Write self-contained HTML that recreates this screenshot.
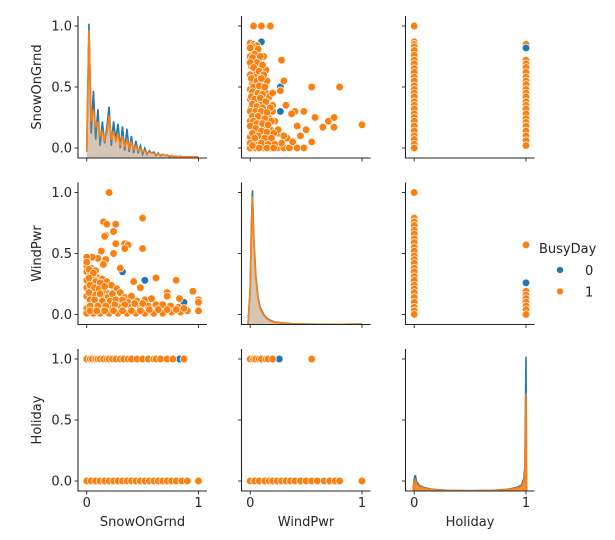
<!DOCTYPE html>
<html><head><meta charset="utf-8"><style>
html,body{margin:0;padding:0;background:#fff;}
svg{display:block;font-family:"DejaVu Sans","Liberation Sans",sans-serif;}
</style></head><body>
<svg id="chart" width="615" height="540" viewBox="0 0 615 540" xmlns="http://www.w3.org/2000/svg"></svg>
<script>
const varNames = ["SnowOnGrnd","WindPwr","Holiday"];
const tickVals = [0, 0.5, 1.0];
const yTickLabels = ["0.0","0.5","1.0"];
const xTickVals = [0, 1];
const xTickLabels = ["0","1"];
const legendTitle = "BusyDay";
const legendLabels = ["0","1"];

const p01Orange = [0,0.86,0.03,0.85,0.06,0.84,0.02,0.8,0.05,0.78,0,0.75,0.04,0.72,0.08,0.7,0.01,0.67,0.06,0.65,0.03,0.62,0.1,0.64,0.14,0.64,0,0.6,0.05,0.58,0.08,0.56,0.02,0.53,0.11,0.52,0.05,0.5,0,0.48,0.09,0.47,0.14,0.45,0.03,0.44,0.06,0.42,0,0.4,0.12,0.4,0.17,0.42,0.04,0.37,0.09,0.36,0.15,0.35,0.01,0.33,0.07,0.31,0.2,0.3,0.03,0.28,0.12,0.28,0.05,0.25,0.16,0.25,0,0.22,0.09,0.22,0.22,0.22,0.04,0.19,0.13,0.19,0.02,0.16,0.08,0.15,0.18,0.15,0.05,0.12,0.12,0.11,0.25,0.12,0,0.09,0.09,0.08,0.16,0.07,0.03,0.05,0.2,0.05,0.07,0.03,0.13,0.02,0,0,0.05,0,0.12,0,0.18,0,0.24,0,0.3,0,0.35,0,0.42,0,0.48,0,0.28,0.04,0.33,0.08,0.03,1,0.1,1,0.18,1,0.12,0.75,0.28,0.72,0.3,0.55,0.55,0.5,0.8,0.5,0.32,0.35,0.4,0.3,0.48,0.3,0.58,0.25,0.7,0.22,0.75,0.25,1,0.19,0.65,0.17,0.75,0.17,0.42,0.18,0.5,0.15,0.45,0.1,0.55,0.05,0.38,0.05,0.3,0.1,0.25,0.15,0.2,0.35,0.15,0.55,0.2,0.45,0.27,0.47,0.37,0.28];
const p01Dense = [0.02,0.83,0.07,0.81,0.0,0.82,0.04,0.77,0.09,0.75,0.02,0.74,0.06,0.7,0.11,0.68,0.0,0.7,0.03,0.66,0.08,0.63,0.12,0.6,0.01,0.57,0.06,0.55,0.1,0.57,0.03,0.5,0.08,0.51,0.13,0.5,0.02,0.46,0.07,0.45,0.11,0.44,0.01,0.42,0.04,0.4,0.09,0.41,0.14,0.38,0.02,0.36,0.06,0.34,0.11,0.33,0.18,0.33,0.0,0.3,0.05,0.3,0.1,0.3,0.15,0.29,0.02,0.26,0.07,0.26,0.13,0.24,0.19,0.22,0.03,0.22,0.06,0.2,0.11,0.2,0.16,0.19,0.0,0.18,0.05,0.16,0.1,0.14,0.15,0.13,0.21,0.12,0.02,0.12,0.07,0.1,0.13,0.08,0.19,0.08,0.04,0.08,0.0,0.04,0.1,0.04,0.16,0.03,0.22,0.03,0.02,0.02,0.08,0.0,0.15,0.0,0.21,0.0];
const p01Blue = [0.27,0.5,0.1,0.87,0.27,0.3];

const p10Orange = [0,0.4,0.04,0.38,0.08,0.36,0,0.35,0.03,0.33,0.1,0.3,0.06,0.3,0.14,0.29,0,0.28,0.04,0.26,0.18,0.27,0.09,0.24,0.13,0.24,0.22,0.24,0,0.22,0.05,0.2,0.16,0.2,0.27,0.21,0.1,0.18,0.2,0.17,0.3,0.18,0,0.15,0.06,0.14,0.14,0.14,0.24,0.14,0.34,0.14,0.4,0.15,0.03,0.1,0.1,0.1,0.18,0.1,0.28,0.1,0.37,0.1,0.45,0.11,0.52,0.12,0.58,0.13,0,0.05,0.07,0.05,0.14,0.05,0.22,0.06,0.31,0.06,0.4,0.06,0.48,0.06,0.55,0.07,0.62,0.08,0.68,0.08,0.75,0.07,0.82,0.06,0,0.01,0.06,0.01,0.12,0.01,0.2,0.01,0.28,0.01,0.36,0.01,0.44,0.01,0.52,0.01,0.6,0.01,0.68,0.01,0.76,0.02,0.84,0.02,0.9,0.03,0.2,1,0.15,0.76,0.18,0.74,0.26,0.74,0.5,0.79,0.17,0.65,0.24,0.68,0.16,0.64,0.26,0.58,0.34,0.58,0.37,0.57,0.34,0.54,0.5,0.54,0.13,0.52,0.24,0.5,0.17,0.45,0.1,0.46,0.05,0.47,0,0.47,0,0.43,0.15,0.41,0.3,0.38,0.62,0.3,0.8,0.28,0.95,0.19,1,0.12,1,0.1,1,0.03,0.83,0.13,0.72,0.18,0.72,0.15,0.48,0.22,0.42,0.27];
const p10Dense = [0.02,0.37,0.06,0.34,0.02,0.3,0.08,0.27,0.12,0.26,0.03,0.24,0.07,0.22,0.11,0.21,0.16,0.23,0.02,0.18,0.08,0.16,0.12,0.17,0.19,0.14,0.23,0.17,0.03,0.12,0.07,0.12,0.14,0.11,0.21,0.11,0.26,0.12,0.32,0.12,0.03,0.07,0.1,0.07,0.17,0.07,0.25,0.08,0.34,0.08,0.43,0.09,0.5,0.09,0.03,0.03,0.09,0.03,0.16,0.03,0.24,0.03,0.32,0.03,0.4,0.03,0.48,0.03,0.56,0.04,0.64,0.04,0.72,0.04,0.8,0.04,0.87,0.05];
const p10Blue = [0.32,0.35,0.52,0.28,0.87,0.1];

const p20Orange = [0,1,0.03,1,0.05,1,0.08,1,0.1,1,0.12,1,0.15,1,0.18,1,0.2,1,0.23,1,0.26,1,0.3,1,0.33,1,0.37,1,0.4,1,0.45,1,0.5,1,0.55,1,0.6,1,0.62,1,0.66,1,0.72,1,0.77,1,0.87,1,0,0,0.04,0,0.08,0,0.12,0,0.16,0,0.2,0,0.24,0,0.28,0,0.32,0,0.36,0,0.4,0,0.44,0,0.48,0,0.52,0,0.56,0,0.6,0,0.64,0,0.68,0,0.72,0,0.76,0,0.8,0,0.85,0,0.9,0,1,0];
const p20Blue = [0.83,1];

const p21Orange = [0,1,0.03,1,0.05,1,0.08,1,0.1,1,0.14,1,0.16,1,0.2,1,0.55,1,0,0,0.04,0,0.08,0,0.13,0,0.17,0,0.2,0,0.24,0,0.28,0,0.32,0,0.36,0,0.4,0,0.45,0,0.5,0,0.55,0,0.6,0,0.66,0,0.71,0,0.76,0,0.8,0,1,0];
const p21Blue = [0.26,1];

const p02Orange = [0,1,0,0.87,0,0.85,0,0.83,0,0.8,0,0.76,0,0.72,0,0.69,0,0.65,0,0.62,0,0.58,0,0.55,0,0.51,0,0.48,0,0.45,0,0.42,0,0.38,0,0.35,0,0.32,0,0.28,0,0.25,0,0.22,0,0.18,0,0.14,0,0.1,0,0.07,0,0.03,0,0,1,0.85,1,0.72,1,0.69,1,0.66,1,0.62,1,0.58,1,0.55,1,0.52,1,0.48,1,0.45,1,0.42,1,0.38,1,0.35,1,0.32,1,0.28,1,0.24,1,0.21,1,0.18,1,0.14,1,0.1,1,0.06,1,0.02];
const p02Blue = [1,0.82];

const p12Orange = [0,1,0,0.79,0,0.76,0,0.73,0,0.69,0,0.66,0,0.62,0,0.59,0,0.55,0,0.52,0,0.48,0,0.45,0,0.42,0,0.38,0,0.35,0,0.31,0,0.28,0,0.24,0,0.21,0,0.18,0,0.14,0,0.1,0,0.06,0,0.03,0,0,1,0.57,1,0.19,1,0.16,1,0.13,1,0.1,1,0.07,1,0.04,1,0];
const p12Blue = [1,0.26];

const kde00X = [0,0.02,0.04,0.06,0.08,0.1,0.12,0.14,0.16,0.18,0.2,0.22,0.24,0.26,0.28,0.3,0.32,0.34,0.36,0.38,0.4,0.42,0.44,0.46,0.48,0.5,0.52,0.54,0.56,0.58,0.6,0.62,0.64,0.66,0.68,0.7,0.72,0.74,0.76,0.78,0.8,0.82,0.84,0.86,0.88,0.9,0.92,0.94,0.96,0.98,1.0];
const kde00Blue = [0.05,1.1,0.2,0.55,0.15,0.4,0.1,0.3,0.12,0.25,0.42,0.1,0.3,0.15,0.28,0.08,0.26,0.06,0.24,0.05,0.18,0.04,0.14,0.04,0.1,0.03,0.08,0.03,0.06,0.04,0.05,0.02,0.04,0.02,0.03,0.02,0.025,0.01,0.02,0.01,0.015,0.01,0.015,0.005,0.01,0.005,0.005,0.005,0.005,0.005,0.005];
const kde00Orange = [0.05,1.05,0.3,0.4,0.25,0.3,0.18,0.22,0.15,0.2,0.35,0.15,0.22,0.14,0.2,0.1,0.18,0.09,0.15,0.08,0.13,0.07,0.1,0.06,0.08,0.05,0.06,0.04,0.05,0.04,0.04,0.03,0.035,0.025,0.03,0.02,0.025,0.015,0.02,0.01,0.015,0.01,0.01,0.01,0.01,0.01,0.01,0.01,0.01,0.01,0.01];

const kde11X = [-0.02,0,0.01,0.02,0.03,0.05,0.07,0.09,0.11,0.13,0.15,0.18,0.22,0.3,0.4,0.5,0.6,0.8,1.0];
const kde11Blue = [0,0.3,0.8,1.1,0.75,0.4,0.22,0.14,0.1,0.07,0.05,0.035,0.02,0.012,0.006,0.004,0.003,0.002,0.004];
const kde11Orange = [0,0.28,0.75,1.05,0.72,0.38,0.21,0.13,0.09,0.065,0.045,0.03,0.018,0.01,0.005,0.003,0.002,0.002,0.004];

const kde22X = [-0.01,0,0.01,0.02,0.04,0.08,0.15,0.3,0.5,0.7,0.85,0.92,0.96,0.98,0.99,1.0,1.005];
const kde22Blue = [0,0.1,0.13,0.08,0.05,0.03,0.015,0.005,0.003,0.005,0.015,0.03,0.05,0.1,0.2,1.1,0];
const kde22Orange = [0,0.07,0.09,0.06,0.04,0.025,0.012,0.004,0.002,0.004,0.012,0.025,0.04,0.08,0.15,0.8,0];

const BLUE="#1f77b4", ORANGE="#ff7f0e";
const NS="http://www.w3.org/2000/svg";
const svg=document.getElementById('chart');
const colLeft=[78,241.5,405.5], rowTop=[16,182.5,349];
const PW=129, PH=142;
const XMIN=-0.078, XMAX=1.076, YMIN=-0.082, YMAX=1.082;
function xs(c,v){return colLeft[c]+(v-XMIN)/(XMAX-XMIN)*PW;}
function ys(r,v){return rowTop[r]+PH-(v-YMIN)/(YMAX-YMIN)*PH;}
function mk(tag,attrs,parent){const e=document.createElementNS(NS,tag);for(const k in attrs)e.setAttribute(k,attrs[k]);(parent||svg).appendChild(e);return e;}

for(let r=0;r<3;r++)for(let c=0;c<3;c++){
  const g=mk('g',{});
  
  
}
const panels=svg.querySelectorAll('g');
function pg(r,c){return panels[r*3+c];}

function scatter(r,c,arr,color,name){
  for(let i=0;i<arr.length;i+=2){
    const p=mk('circle',{cx:xs(c,arr[i]),cy:ys(r,arr[i+1]),r:3.8,fill:color,stroke:'#fff','stroke-width':0.7},pg(r,c));
    
    
  }
}
scatter(0,1,p01Blue,BLUE,'point-busy-0');scatter(0,1,p01Orange,ORANGE,'point-busy-1');scatter(0,1,p01Dense,ORANGE,'point-busy-1');
scatter(1,0,p10Blue,BLUE,'point-busy-0');scatter(1,0,p10Orange,ORANGE,'point-busy-1');scatter(1,0,p10Dense,ORANGE,'point-busy-1');
scatter(2,0,p20Blue,BLUE,'point-busy-0');scatter(2,0,p20Orange,ORANGE,'point-busy-1');
scatter(2,1,p21Blue,BLUE,'point-busy-0');scatter(2,1,p21Orange,ORANGE,'point-busy-1');
scatter(0,2,p02Orange,ORANGE,'point-busy-1');scatter(0,2,p02Blue,BLUE,'point-busy-0');
scatter(1,2,p12Orange,ORANGE,'point-busy-1');scatter(1,2,p12Blue,BLUE,'point-busy-0');

function kde(i,xarr,d,color,fillOp,name){
  const base=rowTop[i]+PH;
  const k=PH/(YMAX-YMIN);
  let pts=xarr.map((x,j)=>xs(i,x).toFixed(2)+','+(base-d[j]*k).toFixed(2));
  const f=mk('polygon',{points:xs(i,xarr[0])+','+base+' '+pts.join(' ')+' '+xs(i,xarr[xarr.length-1])+','+base,fill:color,'fill-opacity':fillOp,stroke:'none'},pg(i,i));
  
  
  const l=mk('polyline',{points:pts.join(' '),fill:'none',stroke:color,'stroke-width':1.6},pg(i,i));
  
  
}
kde(0,kde00X,kde00Blue,BLUE,0.25,'kde-snow-busy-0');
kde(0,kde00X,kde00Orange,ORANGE,0.25,'kde-snow-busy-1');
kde(1,kde11X,kde11Blue,BLUE,0.25,'kde-wind-busy-0');
kde(1,kde11X,kde11Orange,ORANGE,0.25,'kde-wind-busy-1');
kde(2,kde22X,kde22Blue,BLUE,0.25,'kde-holiday-busy-0');
kde(2,kde22X,kde22Orange,ORANGE,0.85,'kde-holiday-busy-1');

for(let r=0;r<3;r++)for(let c=0;c<3;c++){
  const g=pg(r,c), L=colLeft[c], T=rowTop[r], B=T+PH;
  const a=mk('path',{d:`M${L},${T} L${L},${B} L${L+PW},${B}`,fill:'none',stroke:'#262626','stroke-width':1.1},g);
  
  
  tickVals.forEach((v,i)=>{
    const y=ys(r,v);
    const t=mk('line',{x1:L-3.5,x2:L,y1:y,y2:y,stroke:'#262626','stroke-width':0.9},g);
    
    
    if(c===0){
      const tx=mk('text',{x:L-6,y:y+4.5,'text-anchor':'end','font-size':13,fill:'#262626'},g);
      tx.textContent=yTickLabels[i];
      
      
    }
  });
  xTickVals.forEach((v,i)=>{
    const x=xs(c,v);
    const t=mk('line',{x1:x,x2:x,y1:B,y2:B+3.5,stroke:'#262626','stroke-width':0.9},g);
    
    
    if(r===2){
      const tx=mk('text',{x:x,y:B+16,'text-anchor':'middle','font-size':13,fill:'#262626'},g);
      tx.textContent=xTickLabels[i];
      
      
    }
  });
}
varNames.forEach((n,i)=>{
  const cy=rowTop[i]+PH/2;
  const t=mk('text',{x:0,y:0,transform:`translate(41,${cy}) rotate(-90)`,'text-anchor':'middle','font-size':13,fill:'#262626'});
  t.textContent=n;
  
  
  const t2=mk('text',{x:colLeft[i]+PW/2,y:526,'text-anchor':'middle','font-size':13,fill:'#262626'});
  t2.textContent=n;
  
  
});
const lg=mk('g',{});


const lt=mk('text',{x:539,y:253,'font-size':13,fill:'#262626'},lg);
lt.textContent=legendTitle;


[BLUE,ORANGE].forEach((col,i)=>{
  const y=270+i*21.5;
  const d=mk('circle',{cx:560,cy:y,r:3.5,fill:col,stroke:'#fff','stroke-width':0.7},lg);
  
  
  const t=mk('text',{x:585,y:y+5,'font-size':13,fill:'#262626'},lg);
  t.textContent=legendLabels[i];
  
  
});
</script>
</body></html>
